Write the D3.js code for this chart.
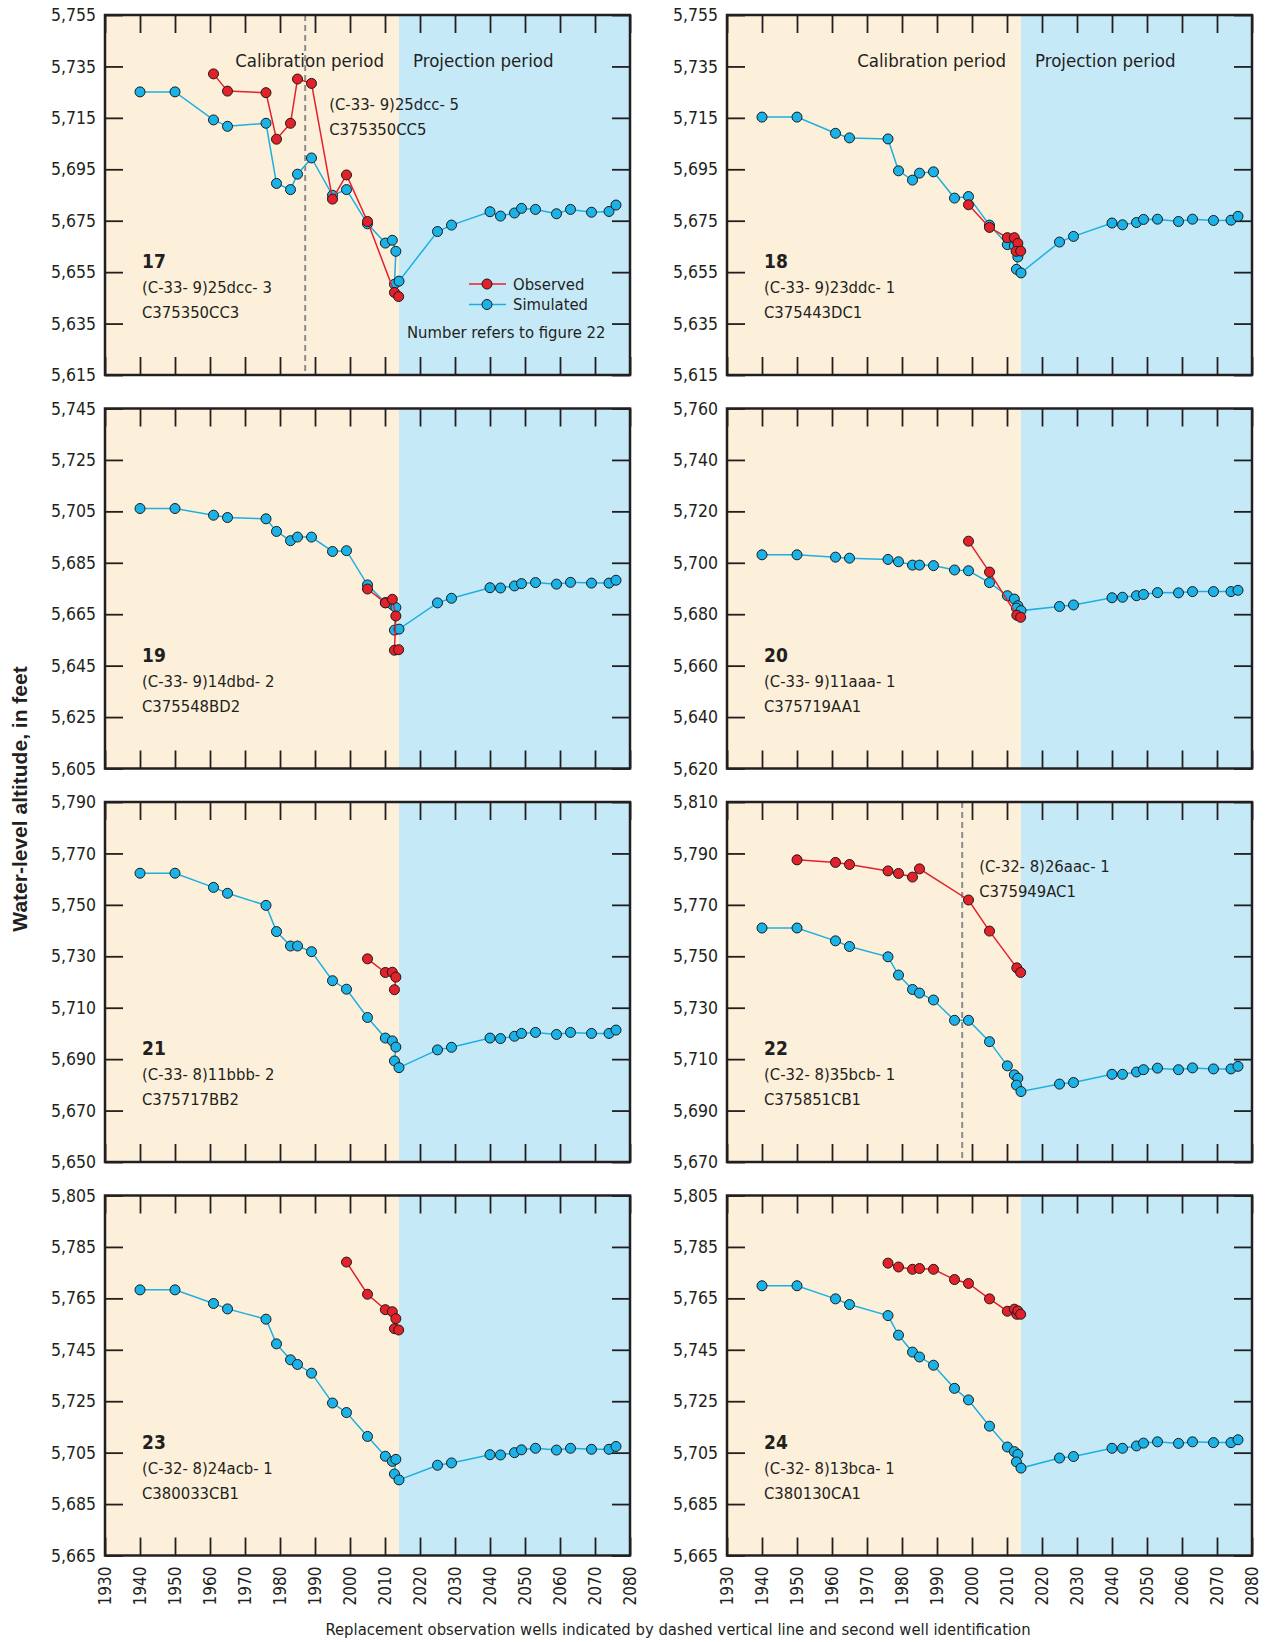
<!DOCTYPE html>
<html>
<head>
<meta charset="utf-8">
<title>Water-level altitude, observed and simulated</title>
<script src="https://d3js.org/d3.v7.min.js"></script>
<style>
  body { margin: 0; background: #fff; }
  text { font-family: "DejaVu Sans Condensed", "DejaVu Sans", sans-serif; fill: #231f20; }
</style>
</head>
<body>
<svg id="chart" width="1270" height="1642"></svg>
<script>
// years of simulated values (calibration then projection), shared by all wells
var simYears = [1940, 1950, 1961, 1965, 1976, 1979, 1983, 1985, 1989, 1995, 1999, 2005, 2010.1, 2012.1, 2013.1, 2012.7, 2014,
                2025, 2029, 2040, 2043, 2047, 2049, 2053, 2059, 2063, 2069, 2074, 2076];
var xTicks = d3.range(1930, 2081, 10);
var calibrationEnd = 2014;

// well 17
var sim17 = [5725.1, 5725.1, 5714.2, 5711.7, 5712.9, 5689.5, 5687.1, 5693.1, 5699.4, 5684.9, 5687.1, 5673.8, 5666.3, 5667.4, 5663.1, 5650.3, 5651.5,
             5670.8, 5673.3, 5678.5, 5676.8, 5678.0, 5679.8, 5679.4, 5677.7, 5679.4, 5678.3, 5678.6, 5681.1];
var obsYears17 = [1961, 1965, 1976, 1979, 1983, 1985, 1989, 1995, 1999, 2005, 2012.7, 2013.9];
var obs17 = [5732.1, 5725.4, 5724.8, 5706.7, 5712.9, 5730.1, 5728.4, 5683.4, 5692.8, 5674.7, 5647.1, 5645.5];

// well 18
var sim18 = [5715.3, 5715.3, 5709.0, 5707.2, 5706.8, 5694.4, 5690.8, 5693.5, 5694.0, 5683.8, 5684.4, 5673.3, 5665.7, 5665.2, 5660.9, 5656.1, 5654.7,
             5666.7, 5668.9, 5674.1, 5673.4, 5674.3, 5675.5, 5675.6, 5674.7, 5675.6, 5675.1, 5675.2, 5676.7];
var obsYears18 = [1999, 2005, 2010.1, 2012.1, 2013.1, 2012.6, 2013.9];
var obs18 = [5681.2, 5672.4, 5668.4, 5668.4, 5666.2, 5663.1, 5663.2];

// well 19
var sim19 = [5706.1, 5706.1, 5703.5, 5702.6, 5702.1, 5697.2, 5693.6, 5695.0, 5695.0, 5689.4, 5689.7, 5676.4, 5669.5, 5668.7, 5667.6, 5658.8, 5659.2,
             5669.4, 5671.2, 5675.3, 5675.2, 5676.0, 5676.9, 5677.3, 5676.7, 5677.4, 5677.1, 5677.1, 5678.2];
var obsYears19 = [2005, 2010.1, 2012.1, 2013.1, 2012.7, 2013.9];
var obs19 = [5674.8, 5669.4, 5670.8, 5664.3, 5651.0, 5651.2];

// well 20
var sim20 = [5703.1, 5703.1, 5702.2, 5701.8, 5701.3, 5700.4, 5699.1, 5699.1, 5698.9, 5697.2, 5696.9, 5692.3, 5687.2, 5685.9, 5683.3, 5682.4, 5681.4,
             5683.0, 5683.6, 5686.4, 5686.6, 5687.2, 5687.7, 5688.4, 5688.3, 5688.8, 5688.8, 5688.8, 5689.3];
var obsYears20 = [1999, 2005, 2012.8, 2013.9];
var obs20 = [5708.4, 5696.4, 5679.6, 5678.8];

// well 21
var sim21 = [5762.3, 5762.3, 5756.8, 5754.5, 5749.8, 5739.6, 5734.0, 5734.0, 5731.8, 5720.5, 5717.2, 5706.2, 5698.2, 5697.1, 5694.7, 5689.3, 5686.7,
             5693.6, 5694.6, 5698.2, 5698.0, 5698.9, 5700.0, 5700.4, 5699.6, 5700.4, 5700.0, 5700.0, 5701.3];
var obsYears21 = [2005, 2010.1, 2012.1, 2013.1, 2012.7];
var obs21 = [5729.0, 5723.7, 5723.8, 5721.9, 5717.0];

// well 22
var sim22 = [5761.0, 5761.0, 5756.0, 5753.8, 5749.8, 5742.7, 5737.1, 5735.7, 5733.0, 5725.1, 5725.1, 5716.8, 5707.4, 5703.9, 5702.6, 5699.9, 5697.4,
             5700.3, 5700.9, 5704.1, 5704.1, 5705.0, 5705.9, 5706.5, 5705.9, 5706.6, 5706.2, 5706.2, 5707.2];
var obsYears22 = [1950, 1961, 1965, 1976, 1979, 1983, 1985, 1999, 2005, 2012.8, 2013.9];
var obs22 = [5787.5, 5786.5, 5785.7, 5783.2, 5782.2, 5780.8, 5784.0, 5771.9, 5759.8, 5745.5, 5743.7];

// well 23
var sim23 = [5768.3, 5768.3, 5763.0, 5760.9, 5756.9, 5747.3, 5741.1, 5739.3, 5735.9, 5724.3, 5720.6, 5711.3, 5703.6, 5701.6, 5702.4, 5696.7, 5694.4,
             5700.1, 5701.0, 5704.2, 5704.1, 5705.0, 5706.1, 5706.7, 5706.0, 5706.7, 5706.3, 5706.3, 5707.4];
var obsYears23 = [1999, 2005, 2010.1, 2012.1, 2013.1, 2012.7, 2013.9];
var obs23 = [5779.1, 5766.6, 5760.6, 5759.8, 5757.1, 5753.2, 5752.7];

// well 24
var sim24 = [5769.9, 5769.9, 5764.8, 5762.6, 5758.3, 5750.7, 5744.1, 5742.2, 5739.0, 5730.0, 5725.5, 5715.3, 5707.2, 5705.4, 5704.3, 5701.4, 5699.0,
             5702.9, 5703.5, 5706.7, 5706.7, 5707.6, 5708.7, 5709.2, 5708.6, 5709.2, 5708.9, 5708.9, 5710.0];
var obsYears24 = [1976, 1979, 1983, 1985, 1989, 1995, 1999, 2005, 2010.1, 2012.1, 2012.8, 2013.1, 2013.9];
var obs24 = [5778.7, 5777.2, 5776.3, 5776.6, 5776.3, 5772.3, 5770.8, 5764.8, 5760.0, 5760.8, 5758.8, 5760.1, 5758.8];

// y-axis ranges (bottom, top) for each panel
var yRanges = [[5615, 5755], [5615, 5755], [5605, 5745], [5620, 5760],
               [5650, 5790], [5670, 5810], [5665, 5805], [5665, 5805]];
var wellNumbers = ["17", "18", "19", "20", "21", "22", "23", "24"];
var wellIds = ["(C-33- 9)25dcc- 3", "(C-33- 9)23ddc- 1", "(C-33- 9)14dbd- 2", "(C-33- 9)11aaa- 1",
               "(C-33- 8)11bbb- 2", "(C-32- 8)35bcb- 1", "(C-32- 8)24acb- 1", "(C-32- 8)13bca- 1"];
var siteIds = ["C375350CC3", "C375443DC1", "C375548BD2", "C375719AA1",
               "C375717BB2", "C375851CB1", "C380033CB1", "C380130CA1"];
var simSeries = [sim17, sim18, sim19, sim20, sim21, sim22, sim23, sim24];
var obsYearSeries = [obsYears17, obsYears18, obsYears19, obsYears20, obsYears21, obsYears22, obsYears23, obsYears24];
var obsSeries = [obs17, obs18, obs19, obs20, obs21, obs22, obs23, obs24];

// replacement wells: panel index, year of switch, labels
var replacements = [
  {panel: 0, year: 1987.2, id: "(C-33- 9)25dcc- 5", site: "C375350CC5", dx: 24, y: 95},
  {panel: 5, year: 1997.2, id: "(C-32- 8)26aac- 1", site: "C375949AC1", dx: 17, y: 70}
];

var colCal = "#fdf0da", colProj = "#c6e9f8";
var colSim = "#1cb0e2", colSimDot = "#1bb2e7";
var colObs = "#e5202e", colObsDot = "#e3212b";

var svg = d3.select("#chart");
var panelW = 525, panelH = 360;
var colX = [105, 727];
var rowY = [15, 408.5, 802, 1195.5];

for (var i = 0; i < 8; i++) {
  var col = i % 2, row = Math.floor(i / 2);
  var g = svg.append("g").attr("transform", "translate(" + colX[col] + "," + rowY[row] + ")");

  var x = d3.scaleLinear().domain([1930, 2080]).range([0, panelW]);
  var y = d3.scaleLinear().domain(yRanges[i]).range([panelH, 0]);
  var yTicks = d3.range(yRanges[i][0], yRanges[i][1] + 1, 20);

  // period backgrounds
  g.append("rect").attr("x", 0).attr("y", 0).attr("width", x(calibrationEnd)).attr("height", panelH).attr("fill", colCal);
  g.append("rect").attr("x", x(calibrationEnd)).attr("y", 0).attr("width", panelW - x(calibrationEnd)).attr("height", panelH).attr("fill", colProj);

  // axes, ticks pointing inward
  var axL = g.append("g").call(d3.axisLeft(y).tickValues(yTicks).tickSize(-18).tickPadding(9).tickFormat(d3.format(",")));
  var axR = g.append("g").attr("transform", "translate(" + panelW + ",0)")
      .call(d3.axisRight(y).tickValues(yTicks).tickSize(-18).tickFormat(""));
  var axT = g.append("g").call(d3.axisTop(x).tickValues(xTicks).tickSize(-18).tickFormat(""));
  var axB = g.append("g").attr("transform", "translate(0," + panelH + ")")
      .call(d3.axisBottom(x).tickValues(xTicks).tickSize(-18).tickFormat(row === 3 ? d3.format("d") : ""));
  [axL, axR, axT, axB].forEach(function(a) {
    a.select(".domain").remove();
    a.selectAll(".tick line").attr("stroke", "#231f20").attr("stroke-width", 1.8);
    a.selectAll("text").attr("font-size", 17.5).attr("fill", "#231f20")
      .style("font-family", "'DejaVu Sans Condensed', 'DejaVu Sans', sans-serif");
  });
  if (row === 3) {
    axB.selectAll(".tick text")
      .attr("transform", "rotate(-90)")
      .attr("text-anchor", "end")
      .attr("font-size", 17)
      .attr("x", -11).attr("y", 0).attr("dy", "0.35em");
  }

  // replacement well dashed line
  replacements.filter(function(r) { return r.panel === i; }).forEach(function(r) {
    g.append("line").attr("x1", x(r.year)).attr("x2", x(r.year)).attr("y1", 0).attr("y2", panelH)
      .attr("stroke", "#8c8c8c").attr("stroke-width", 2).attr("stroke-dasharray", "6,4");
    g.append("text").attr("x", x(r.year) + r.dx).attr("y", r.y).attr("font-size", 16.5).text(r.id);
    g.append("text").attr("x", x(r.year) + r.dx).attr("y", r.y + 25).attr("font-size", 16.5).text(r.site);
  });

  // simulated series
  var simData = simYears.map(function(yr, k) { return [yr, simSeries[i][k]]; });
  var line = d3.line().x(function(d) { return x(d[0]); }).y(function(d) { return y(d[1]); });
  g.append("path").datum(simData).attr("d", line).attr("fill", "none").attr("stroke", colSim).attr("stroke-width", 1.5);
  g.selectAll(".sim").data(simData).enter().append("circle").attr("class", "sim")
    .attr("cx", function(d) { return x(d[0]); }).attr("cy", function(d) { return y(d[1]); })
    .attr("r", 5).attr("fill", colSimDot).attr("stroke", "#1a1a1a").attr("stroke-width", 1);

  // observed series
  var obsData = obsYearSeries[i].map(function(yr, k) { return [yr, obsSeries[i][k]]; });
  g.append("path").datum(obsData).attr("d", line).attr("fill", "none").attr("stroke", colObs).attr("stroke-width", 1.5);
  g.selectAll(".obs").data(obsData).enter().append("circle").attr("class", "obs")
    .attr("cx", function(d) { return x(d[0]); }).attr("cy", function(d) { return y(d[1]); })
    .attr("r", 5).attr("fill", colObsDot).attr("stroke", "#1a1a1a").attr("stroke-width", 1);

  // well label
  g.append("text").attr("x", 37).attr("y", 253).attr("font-size", 19).attr("font-weight", "bold").text(wellNumbers[i]);
  g.append("text").attr("x", 37).attr("y", 278).attr("font-size", 16.5).text(wellIds[i]);
  g.append("text").attr("x", 37).attr("y", 303).attr("font-size", 16.5).text(siteIds[i]);

  // period labels on top row
  if (row === 0) {
    g.append("text").attr("x", x(calibrationEnd) - 15).attr("y", 52).attr("font-size", 18.5)
      .attr("text-anchor", "end").text("Calibration period");
    g.append("text").attr("x", x(calibrationEnd) + 14).attr("y", 52).attr("font-size", 18.5).text("Projection period");
  }

  // legend in first panel
  if (i === 0) {
    var legend = [["Observed", colObs, colObsDot, 269], ["Simulated", colSim, colSimDot, 289.5]];
    legend.forEach(function(l) {
      g.append("line").attr("x1", 364).attr("x2", 401).attr("y1", l[3]).attr("y2", l[3]).attr("stroke", l[1]).attr("stroke-width", 1.5);
      g.append("circle").attr("cx", 382).attr("cy", l[3]).attr("r", 5).attr("fill", l[2]).attr("stroke", "#1a1a1a");
      g.append("text").attr("x", 408).attr("y", l[3]).attr("dy", "0.35em").attr("font-size", 16.5).text(l[0]);
    });
    g.append("text").attr("x", 302).attr("y", 323).attr("font-size", 16.5).text("Number refers to figure 22");
  }

  // panel border
  g.append("rect").attr("width", panelW).attr("height", panelH).attr("fill", "none")
    .attr("stroke", "#231f20").attr("stroke-width", 2.5);
}

// y-axis title
svg.append("text").attr("transform", "translate(27,799) rotate(-90)").attr("text-anchor", "middle")
  .style("font-family", "'Liberation Sans', Arial, sans-serif").attr("font-size", 21).attr("font-weight", "bold")
  .text("Water-level altitude, in feet");

// caption
svg.append("text").attr("x", 678).attr("y", 1635).attr("text-anchor", "middle").attr("font-size", 16.5)
  .text("Replacement observation wells indicated by dashed vertical line and second well identification");
</script>
</body>
</html>
